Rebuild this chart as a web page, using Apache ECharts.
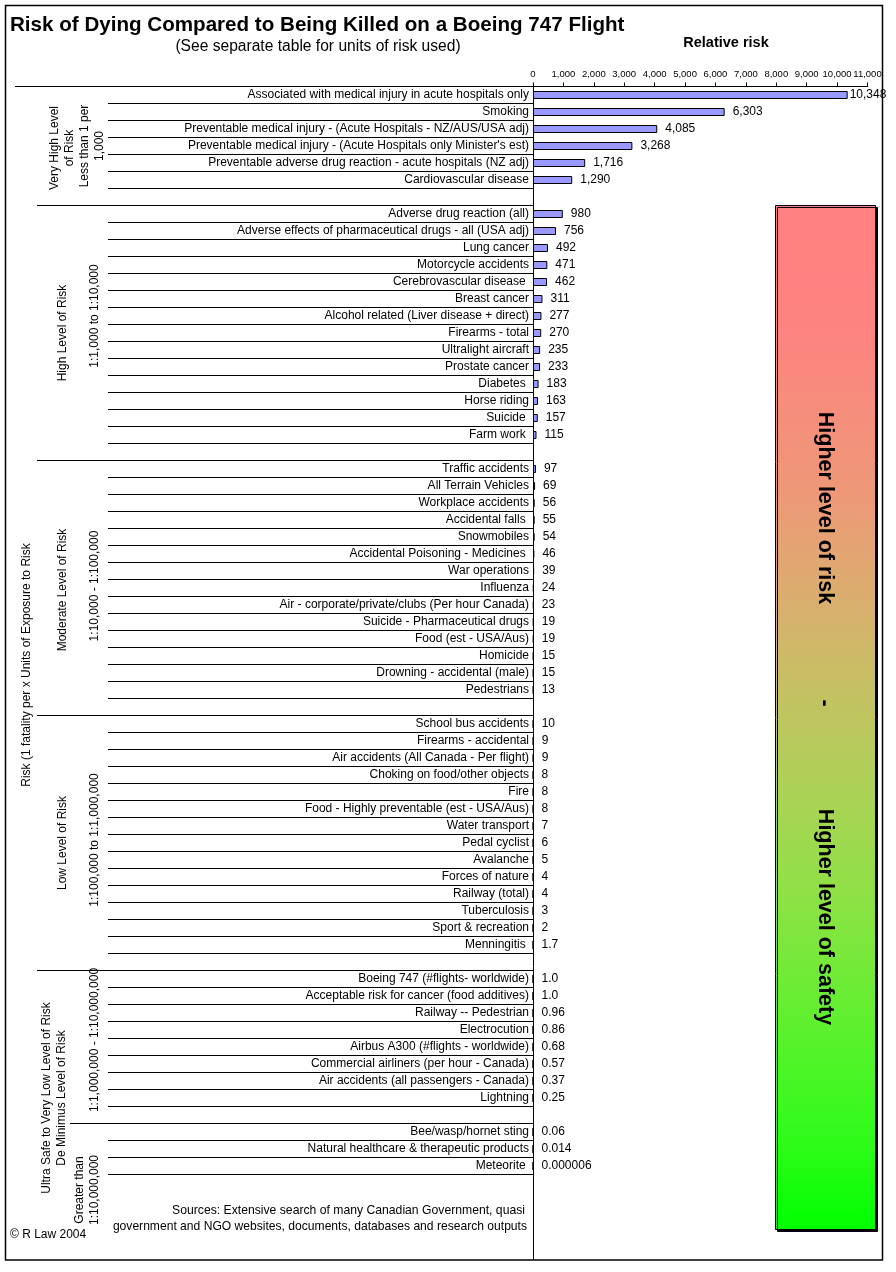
<!DOCTYPE html>
<html>
<head>
<meta charset="utf-8">
<script src="https://cdn.jsdelivr.net/npm/echarts@6/dist/echarts.min.js"></script>
<style>
html,body{margin:0;padding:0;background:#fff;}
#chart{width:896px;height:1272px;}
</style>
</head>
<body>
<div id="chart"></div>
<script>
// ---- Data ----
const catVeryHigh = ["Associated with medical injury in acute hospitals only","Smoking","Preventable medical injury - (Acute Hospitals - NZ/AUS/USA adj)","Preventable medical injury - (Acute Hospitals only Minister's est)","Preventable adverse drug reaction - acute hospitals (NZ adj)","Cardiovascular disease"];
const valVeryHigh = [10348, 6303, 4085, 3268, 1716, 1290];
const txtVeryHigh = ["10,348","6,303","4,085","3,268","1,716","1,290"];

const catHigh = ["Adverse drug reaction (all)","Adverse effects of pharmaceutical drugs - all (USA adj)","Lung cancer","Motorcycle accidents","Cerebrovascular disease ","Breast cancer","Alcohol related (Liver disease + direct)","Firearms - total","Ultralight aircraft","Prostate cancer","Diabetes ","Horse riding","Suicide ","Farm work "];
const valHigh = [980, 756, 492, 471, 462, 311, 277, 270, 235, 233, 183, 163, 157, 115];
const txtHigh = ["980","756","492","471","462","311","277","270","235","233","183","163","157","115"];

const catModerate = ["Traffic accidents","All Terrain Vehicles","Workplace accidents","Accidental falls ","Snowmobiles","Accidental Poisoning - Medicines ","War operations","Influenza","Air - corporate/private/clubs (Per hour Canada)","Suicide - Pharmaceutical drugs","Food (est - USA/Aus)","Homicide","Drowning - accidental (male)","Pedestrians"];
const valModerate = [97, 69, 56, 55, 54, 46, 39, 24, 23, 19, 19, 15, 15, 13];
const txtModerate = ["97","69","56","55","54","46","39","24","23","19","19","15","15","13"];

const catLow = ["School bus accidents","Firearms - accidental","Air accidents (All Canada - Per flight)","Choking on food/other objects","Fire","Food - Highly preventable (est - USA/Aus)","Water transport","Pedal cyclist","Avalanche","Forces of nature","Railway (total)","Tuberculosis","Sport & recreation","Menningitis "];
const valLow = [10, 9, 9, 8, 8, 8, 7, 6, 5, 4, 4, 3, 2, 1.7];
const txtLow = ["10","9","9","8","8","8","7","6","5","4","4","3","2","1.7"];

const catVeryLow = ["Boeing 747 (#flights- worldwide)","Acceptable risk for cancer (food additives)","Railway -- Pedestrian","Electrocution","Airbus A300 (#flights - worldwide)","Commercial airliners (per hour - Canada)","Air accidents (all passengers - Canada)","Lightning"];
const valVeryLow = [1.0, 1.0, 0.96, 0.86, 0.68, 0.57, 0.37, 0.25];
const txtVeryLow = ["1.0","1.0","0.96","0.86","0.68","0.57","0.37","0.25"];

const catUltra = ["Bee/wasp/hornet sting","Natural healthcare & therapeutic products","Meteorite "];
const valUltra = [0.06, 0.014, 0.000006];
const txtUltra = ["0.06","0.014","0.000006"];

const xTicks = [0,1000,2000,3000,4000,5000,6000,7000,8000,9000,10000,11000];

// ---- Build ----
const FONT = "'Liberation Sans', Arial, Helvetica, sans-serif";
const groups = [
  {names: catVeryHigh, values: valVeryHigh, texts: txtVeryHigh, blanks: 1, sepX: 15},
  {names: catHigh, values: valHigh, texts: txtHigh, blanks: 1, sepX: 37},
  {names: catModerate, values: valModerate, texts: txtModerate, blanks: 1, sepX: 37},
  {names: catLow, values: valLow, texts: txtLow, blanks: 1, sepX: 37},
  {names: catVeryLow, values: valVeryLow, texts: txtVeryLow, blanks: 1, sepX: 37},
  {names: catUltra, values: valUltra, texts: txtUltra, blanks: 5, sepX: 70}
];
const categories = [], values = [], texts = [], firstIdx = [], itemIdx = [];
groups.forEach(g => {
  firstIdx.push({idx: categories.length, x: g.sepX});
  g.names.forEach((n, i) => {
    itemIdx.push(categories.length);
    categories.push(n); values.push(g.values[i]); texts.push(g.texts[i]);
  });
  for (let b = 0; b < g.blanks; b++) {
    categories.push('_blank' + categories.length); values.push(null); texts.push('');
  }
});

const chart = echarts.init(document.getElementById('chart'));
const option = {
  animation: false,
  backgroundColor: '#fff',
  grid: {left: 533, right: 28.5, top: 86.5, bottom: 12.5, containLabel: false},
  xAxis: {
    type: 'value', position: 'top', min: xTicks[0], max: xTicks[xTicks.length-1], interval: xTicks[1]-xTicks[0],
    axisLine: {show: true, lineStyle: {color: '#000', width: 1}},
    axisTick: {show: true, length: 4, lineStyle: {color: '#000'}},
    splitLine: {show: false},
    axisLabel: {fontSize: 9.5, color: '#000', fontFamily: FONT, margin: 7,
      formatter: v => v.toLocaleString('en-US')}
  },
  yAxis: {
    type: 'category', inverse: true, data: categories,
    axisLine: {show: true, lineStyle: {color: '#000', width: 1}},
    axisTick: {show: false},
    splitLine: {show: false},
    axisLabel: {fontSize: 12, color: '#000', fontFamily: FONT, margin: 4, interval: 0,
      formatter: v => v.indexOf('_blank') === 0 ? '' : v}
  },
  series: [{
    type: 'bar', barWidth: 8,
    data: values.map((v, i) => i === 0 ? {value: v, label: {distance: 2}} : v),
    itemStyle: {color: '#9999FF', borderColor: '#000', borderWidth: 1},
    label: {show: true, position: 'right', distance: 8, fontSize: 12, color: '#000', fontFamily: FONT,
      formatter: p => texts[p.dataIndex]}
  }]
};
chart.setOption(option);

// ---- Decorations computed from the axes ----
const yc = i => chart.convertToPixel({yAxisIndex: 0}, i);
const band = yc(1) - yc(0);
const xAxis0 = chart.convertToPixel({xAxisIndex: 0}, 0);
const snap = y => Math.round(y - 0.5) + 0.5;
const lineEl = (x1, y, x2) => ({type: 'line', silent: true, shape: {x1: x1, y1: y, x2: x2, y2: y}, style: {stroke: '#000', lineWidth: 1}});
const els = [];
firstIdx.forEach(f => els.push(lineEl(f.x, snap(yc(f.idx) - band/2), xAxis0)));
itemIdx.forEach(i => els.push(lineEl(108, snap(yc(i) + band/2), xAxis0)));

const txt = (x, y, s, o) => Object.assign({type: 'text', x: x, y: y, silent: true,
  style: Object.assign({text: s, fill: '#000', fontFamily: FONT, fontSize: 12, align: 'center', verticalAlign: 'middle', lineHeight: 15}, o && o.style || {})},
  o && o.rotation !== undefined ? {rotation: o.rotation} : {});
const R = Math.PI / 2;

// frame
els.push({type: 'rect', silent: true, shape: {x: 5.5, y: 5.5, width: 877, height: 1254.5}, style: {fill: 'none', stroke: '#000', lineWidth: 1.5}});
// titles
els.push(txt(10, 25, 'Risk of Dying Compared to Being Killed on a Boeing 747 Flight', {style: {fontSize: 20.6, fontWeight: 'bold', align: 'left'}}));
els.push(txt(318, 47, '(See separate table for units of risk used)', {style: {fontSize: 15.6}}));
els.push(txt(726, 43, 'Relative risk', {style: {fontSize: 14.5, fontWeight: 'bold'}}));
// left rotated texts
els.push(txt(27, 665, 'Risk (1 fatality per x Units of Exposure to Risk', {rotation: R}));
els.push(txt(62, 148, 'Very High Level\nof Risk', {rotation: R}));
els.push(txt(92, 146, 'Less than 1 per\n1,000', {rotation: R}));
els.push(txt(63, 333, 'High Level of Risk', {rotation: R}));
els.push(txt(95, 316, '1:1,000 to 1:10,000', {rotation: R}));
els.push(txt(63, 590, 'Moderate Level of Risk', {rotation: R}));
els.push(txt(95, 586, '1:10,000 - 1:100,000', {rotation: R}));
els.push(txt(63, 843, 'Low Level of Risk', {rotation: R}));
els.push(txt(95, 840, '1:100,000 to 1:1,000,000', {rotation: R}));
els.push(txt(54, 1098, 'Ultra Safe to Very Low Level of Risk\nDe Minimus Level of Risk', {rotation: R}));
els.push(txt(95, 1040, '1:1,000,000 - 1:10,000,000', {rotation: R}));
els.push(txt(87, 1190, 'Greater than\n1:10,000,000', {rotation: R}));
// footer
els.push(txt(10, 1235, '\u00a9 R Law 2004', {style: {align: 'left'}}));
els.push(txt(525, 1211, 'Sources: Extensive search of many Canadian Government, quasi', {style: {align: 'right', fontSize: 12.2}}));
els.push(txt(527, 1227, 'government and NGO websites, documents, databases and research outputs', {style: {align: 'right', fontSize: 12.1}}));
// gradient panel
els.push({type: 'rect', silent: true, shape: {x: 775.5, y: 205.5, width: 100, height: 1024},
  style: {stroke: '#000', lineWidth: 1, shadowColor: '#000', shadowOffsetX: 2, shadowOffsetY: 2, shadowBlur: 0,
    fill: {type: 'linear', x: 0, y: 0, x2: 0, y2: 1, colorStops: [
      {offset: 0, color: '#FF8080'}, {offset: 0.12, color: '#FD8380'}, {offset: 0.28, color: '#EE9878'},
      {offset: 0.385, color: '#DAAE6E'}, {offset: 0.48, color: '#C3C262'}, {offset: 0.58, color: '#AAD355'},
      {offset: 0.68, color: '#8CE244'}, {offset: 0.8, color: '#5EF02E'}, {offset: 0.92, color: '#2CFC18'},
      {offset: 1, color: '#00FF00'}]}}});
els.push(txt(825, 508, 'Higher level of risk', {rotation: -R, style: {fontSize: 21.5, fontWeight: 'bold'}}));
els.push(txt(825, 703, '-', {rotation: -R, style: {fontSize: 21.5, fontWeight: 'bold'}}));
els.push(txt(825, 917, 'Higher level of safety', {rotation: -R, style: {fontSize: 21.5, fontWeight: 'bold'}}));

chart.setOption({graphic: els});
</script>
</body>
</html>
